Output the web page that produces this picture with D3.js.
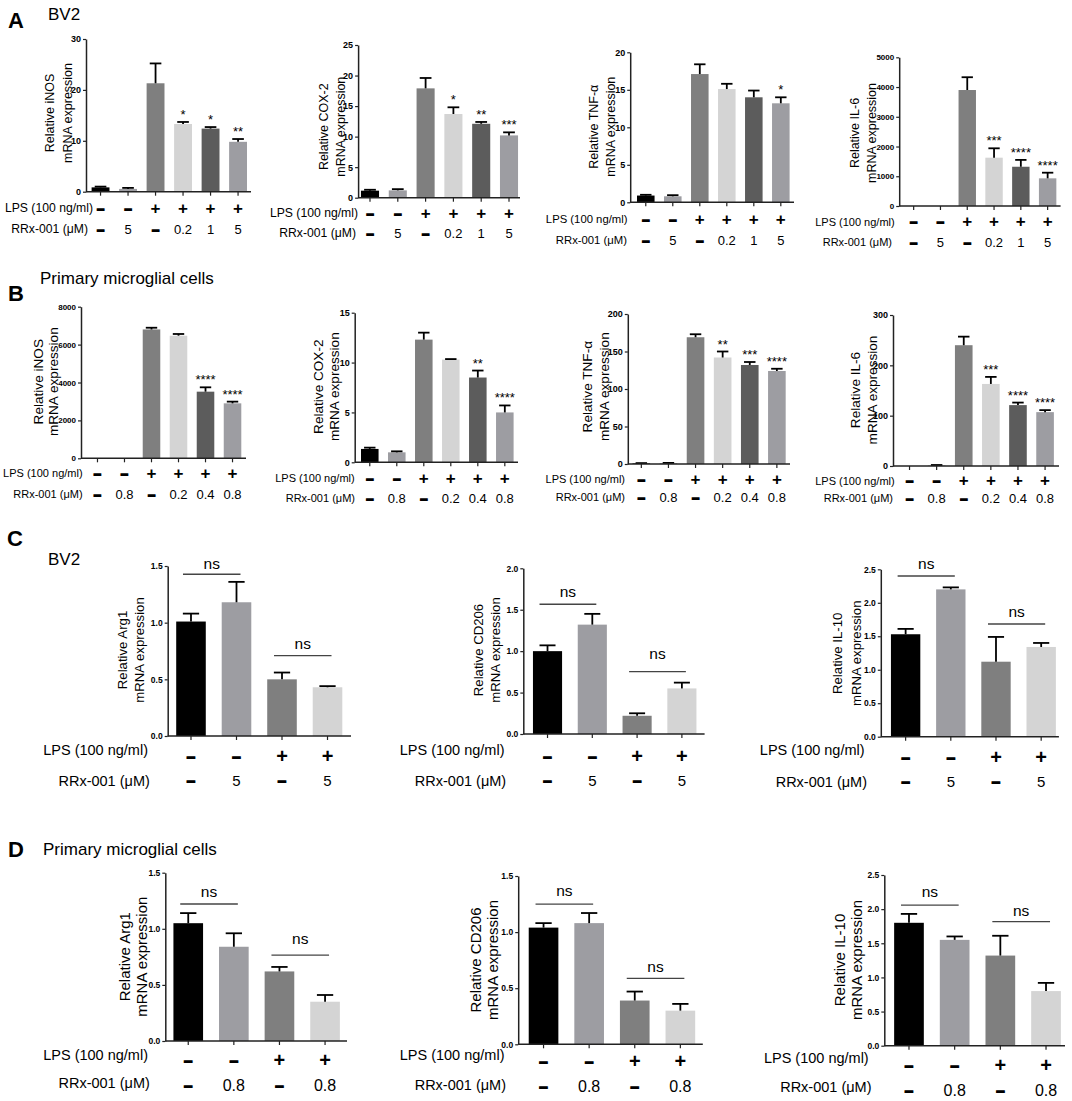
<!DOCTYPE html>
<html>
<head>
<meta charset="utf-8">
<script src="https://cdn.jsdelivr.net/npm/d3@7"></script>
<style>
  body { margin: 0; background: #fff; }
  svg { display: block; font-family: "Liberation Sans", Arial, sans-serif; }
</style>
</head>
<body>
<svg id="fig" width="1072" height="1101"></svg>
<script>
// treatment rows
const lpsSix = ['-', '-', '+', '+', '+', '+']
const rrxBv2Six = ['-', '5', '-', '0.2', '1', '5']
const rrxPriSix = ['-', '0.8', '-', '0.2', '0.4', '0.8']
const lpsFour = ['-', '-', '+', '+']
const rrxBv2Four = ['-', '5', '-', '5']
const rrxPriFour = ['-', '0.8', '-', '0.8']

// panel A, BV2 pro-inflammatory
const bv2InosMean = [0.85, 0.55, 21.3, 13.3, 12.4, 9.8]
const bv2InosSem = [0.15, 0.2, 3.9, 0.4, 0.3, 0.55]
const bv2InosSig = ['', '', '', '*', '*', '**']
const bv2Cox2Mean = [1.15, 1.2, 17.9, 13.7, 12.1, 10.2]
const bv2Cox2Sem = [0.15, 0.2, 1.7, 1.1, 0.3, 0.5]
const bv2Cox2Sig = ['', '', '', '*', '**', '***']
const bv2TnfMean = [0.9, 0.8, 17.1, 15.1, 14.0, 13.2]
const bv2TnfSem = [0.1, 0.15, 1.3, 0.7, 0.9, 0.8]
const bv2TnfSig = ['', '', '', '', '', '*']
const bv2Il6Mean = [0, 0, 3900, 1625, 1320, 930]
const bv2Il6Sem = [0, 0, 430, 315, 230, 190]
const bv2Il6Sig = ['', '', '', '***', '****', '****']

// panel B, primary microglia pro-inflammatory
const priInosMean = [0, 0, 6800, 6470, 3516, 2900]
const priInosSem = [0, 0, 90, 90, 230, 90]
const priInosSig = ['', '', '', '', '****', '****']
const priCox2Mean = [1.34, 1.0, 12.3, 10.3, 8.5, 5.0]
const priCox2Sem = [0.13, 0.1, 0.7, 0.05, 0.7, 0.7]
const priCox2Sig = ['', '', '', '', '**', '****']
const priTnfMean = [0.8, 1.0, 169, 142, 132, 124]
const priTnfSem = [0.4, 0.5, 4, 8, 4, 3]
const priTnfSig = ['', '', '', '**', '***', '****']
const priIl6Mean = [0, 1, 240, 163, 121, 107]
const priIl6Sem = [0, 1, 17, 14, 5, 4]
const priIl6Sig = ['', '', '', '***', '****', '****']

// panel C, BV2 anti-inflammatory
const bv2Arg1Mean = [1.01, 1.18, 0.50, 0.43]
const bv2Arg1Sem = [0.07, 0.18, 0.06, 0.01]
const bv2Cd206Mean = [1.0, 1.32, 0.22, 0.55]
const bv2Cd206Sem = [0.07, 0.13, 0.03, 0.07]
const bv2Il10Mean = [1.53, 2.20, 1.12, 1.34]
const bv2Il10Sem = [0.08, 0.03, 0.37, 0.06]

// panel D, primary microglia anti-inflammatory
const priArg1Mean = [1.05, 0.84, 0.62, 0.35]
const priArg1Sem = [0.09, 0.12, 0.04, 0.06]
const priCd206Mean = [1.04, 1.08, 0.39, 0.30]
const priCd206Sem = [0.04, 0.09, 0.08, 0.06]
const priIl10Mean = [1.80, 1.55, 1.32, 0.80]
const priIl10Sem = [0.13, 0.05, 0.29, 0.12]

const sixColors = ['#000000', '#9d9da2', '#7f7f7f', '#d4d4d4', '#5c5c5c', '#9d9da2']
const fourColors = ['#000000', '#9d9da2', '#7f7f7f', '#d4d4d4']

const svg = d3.select('#fig')

// row styles: A/B small, C/D larger
const small = {rowSize: 11, symSize: 17, dashSize: 13, valSize: 13, tickSize: 9, labelSize: 12.5, cap: 0.65}
const big = {rowSize: 14.5, symSize: 20, dashSize: 15, valSize: 15, tickSize: 8.5, labelSize: 13.2, cap: 0.55}

const charts = [
  {gene: 'iNOS', mean: bv2InosMean, sem: bv2InosSem, sig: bv2InosSig, lps: lpsSix, rrx: rrxBv2Six, max: 30, ticks: [0, 10, 20, 30],
   ax: 86, range: [86.1, 252.5], axisEnd: 251, y0: 191.7, yTop: 39, labX: [50, 68], labY: 113,
   lpsY: 208.3, lpsSymY: 208.3, rrxY: 229.3, rrxValY: 229.3, lpsRight: 93, rrxRight: 88, st: {...small, rowSize: 12.2}},
  {gene: 'COX-2', mean: bv2Cox2Mean, sem: bv2Cox2Sem, sig: bv2Cox2Sig, lps: lpsSix, rrx: rrxBv2Six, max: 25, ticks: [0, 5, 10, 15, 20, 25],
   ax: 358.1, range: [355.4, 523.6], axisEnd: 520, y0: 197.7, yTop: 45, labX: [324, 341], labY: 126.7,
   lpsY: 213.3, lpsSymY: 213.3, rrxY: 233.3, rrxValY: 233.3, lpsRight: 358, rrxRight: 356, st: {...small, rowSize: 12.2}},
  {gene: 'TNF-α', mean: bv2TnfMean, sem: bv2TnfSem, sig: bv2TnfSig, lps: lpsSix, rrx: rrxBv2Six, max: 20, ticks: [0, 5, 10, 15, 20],
   ax: 630.2, range: [631.6, 795], axisEnd: 794, y0: 202.3, yTop: 52.3, labX: [594, 611], labY: 126.7,
   lpsY: 219.3, lpsSymY: 219.3, rrxY: 240, rrxValY: 240, lpsRight: 627.5, rrxRight: 627, st: {...small, rowSize: 11.3}},
  {gene: 'IL-6', mean: bv2Il6Mean, sem: bv2Il6Sem, sig: bv2Il6Sig, lps: lpsSix, rrx: rrxBv2Six, max: 5000, ticks: [0, 1000, 2000, 3000, 4000, 5000],
   ax: 899.2, range: [899.6, 1061.7], axisEnd: 1060.6, y0: 206, yTop: 57.3, labX: [855, 872], labY: 133,
   lpsY: 221.7, lpsSymY: 221.7, rrxY: 242, rrxValY: 242, lpsRight: 894.7, rrxRight: 892, st: {...small, tickSize: 8}},

  {gene: 'iNOS', mean: priInosMean, sem: priInosSem, sig: priInosSig, lps: lpsSix, rrx: rrxPriSix, max: 8000, ticks: [0, 2000, 4000, 6000, 8000],
   ax: 81, range: [83.3, 246.7], axisEnd: 246, y0: 458.3, yTop: 306.7, labX: [38, 53], labY: 381.7,
   lpsY: 473.3, lpsSymY: 473.3, rrxY: 494, rrxValY: 494, lpsRight: 82.6, rrxRight: 82.6, st: {...small, labelSize: 13.6, tickSize: 8}},
  {gene: 'COX-2', mean: priCox2Mean, sem: priCox2Sem, sig: priCox2Sig, lps: lpsSix, rrx: rrxPriSix, max: 15, ticks: [0, 5, 10, 15],
   ax: 354.7, range: [355.6, 519], axisEnd: 518, y0: 462.3, yTop: 312.7, labX: [318.5, 334], labY: 386.7,
   lpsY: 478.3, lpsSymY: 478.3, rrxY: 498.3, rrxValY: 498.3, lpsRight: 354.7, rrxRight: 355, st: {...small, labelSize: 13.6}},
  {gene: 'TNF-α', mean: priTnfMean, sem: priTnfSem, sig: priTnfSig, lps: lpsSix, rrx: rrxPriSix, max: 200, ticks: [0, 50, 100, 150, 200],
   ax: 627.8, range: [627.1, 791.1], axisEnd: 790, y0: 464, yTop: 314, labX: [587, 604], labY: 386.7,
   lpsY: 479.3, lpsSymY: 479.3, rrxY: 497.3, rrxValY: 497.3, lpsRight: 625, rrxRight: 625, st: {...small, labelSize: 13.6}},
  {gene: 'IL-6', mean: priIl6Mean, sem: priIl6Sem, sig: priIl6Sig, lps: lpsSix, rrx: rrxPriSix, max: 300, ticks: [0, 100, 200, 300],
   ax: 893, range: [895.3, 1059.3], axisEnd: 1059, y0: 466, yTop: 315, labX: [855, 872], labY: 390,
   lpsY: 480.7, lpsSymY: 480.7, rrxY: 498.3, rrxValY: 498.3, lpsRight: 894.7, rrxRight: 893, st: {...small, labelSize: 13.6}},

  {gene: 'Arg1', mean: bv2Arg1Mean, sem: bv2Arg1Sem, lps: lpsFour, rrx: rrxBv2Four, max: 1.5, ticks: [0, 0.5, 1, 1.5], dec: true,
   ax: 167.7, range: [167.1, 351.4], axisEnd: 351, y0: 736, yTop: 566, labX: [122, 139.5], labY: 650,
   lpsY: 750, lpsSymY: 756, rrxY: 780.7, rrxValY: 780.7, lpsRight: 148, rrxRight: 149.8, st: big,
   ns: [{a: 0, b: 1, v: 1.427, gap: 11}, {a: 2, b: 3, v: 0.709, gap: 12.4}]},
  {gene: 'CD206', mean: bv2Cd206Mean, sem: bv2Cd206Sem, lps: lpsFour, rrx: rrxBv2Four, max: 2, ticks: [0, 0.5, 1, 1.5, 2], dec: true,
   ax: 523.3, range: [524, 705.4], axisEnd: 704.6, y0: 734, yTop: 568.3, labX: [478.6, 495.9], labY: 650,
   lpsY: 750, lpsSymY: 756, rrxY: 780.7, rrxValY: 780.7, lpsRight: 504.5, rrxRight: 506.2, st: big,
   ns: [{a: 0, b: 1, v: 1.566, gap: 12.6}, {a: 2, b: 3, v: 0.752, gap: 18.4}]},
  {gene: 'IL-10', mean: bv2Il10Mean, sem: bv2Il10Sem, lps: lpsFour, rrx: rrxBv2Four, max: 2.5, ticks: [0, 0.5, 1, 1.5, 2, 2.5], dec: true,
   ax: 880.8, range: [881.9, 1064.9], axisEnd: 1058.9, y0: 736.7, yTop: 569.3, labX: [837.6, 856.7], labY: 653.3,
   lpsY: 750, lpsSymY: 757.3, rrxY: 781.7, rrxValY: 781.7, lpsRight: 864.6, rrxRight: 867, st: big,
   ns: [{a: 0, b: 1, v: 2.40, gap: 12.7}, {a: 2, b: 3, v: 1.683, gap: 12.3}]},

  {gene: 'Arg1', mean: priArg1Mean, sem: priArg1Sem, lps: lpsFour, rrx: rrxPriFour, max: 1.5, ticks: [0, 0.5, 1, 1.5], dec: true,
   ax: 165.3, range: [164.3, 349], axisEnd: 347, y0: 1041, yTop: 872.7, labX: [124, 141.2], labY: 956.7,
   lpsY: 1055, lpsSymY: 1060, rrxY: 1083.3, rrxValY: 1085, lpsRight: 148, rrxRight: 149.8, st: {...big, labelSize: 15, valSize: 16},
   ns: [{a: 0, b: 1, v: 1.221, gap: 12.3}, {a: 2, b: 3, v: 0.766, gap: 16.7}]},
  {gene: 'CD206', mean: priCd206Mean, sem: priCd206Sem, lps: lpsFour, rrx: rrxPriFour, max: 1.5, ticks: [0, 0.5, 1, 1.5], dec: true,
   ax: 518.2, range: [519.6, 704.3], axisEnd: 702.8, y0: 1044.3, yTop: 876, labX: [475.2, 492.4], labY: 960,
   lpsY: 1055, lpsSymY: 1061, rrxY: 1085, rrxValY: 1086.7, lpsRight: 504.5, rrxRight: 506, st: {...big, labelSize: 15, valSize: 16},
   ns: [{a: 0, b: 1, v: 1.25, gap: 14}, {a: 2, b: 3, v: 0.588, gap: 12.3}]},
  {gene: 'IL-10', mean: priIl10Mean, sem: priIl10Sem, lps: lpsFour, rrx: rrxPriFour, max: 2.5, ticks: [0, 0.5, 1, 1.5, 2, 2.5], dec: true,
   ax: 884.3, range: [885, 1070], axisEnd: 1065, y0: 1045.7, yTop: 875, labX: [839.4, 856.7], labY: 960,
   lpsY: 1058.3, lpsSymY: 1065, rrxY: 1086.7, rrxValY: 1090, lpsRight: 868.7, rrxRight: 871.5, st: {...big, labelSize: 15, valSize: 16},
   ns: [{a: 0, b: 1, v: 2.06, gap: 13.3}, {a: 2, b: 3, v: 1.816, gap: 11.7}]}
]

// panel letters and titles
const heads = [
  {t: 'A', x: 8, y: 28, size: 22, bold: true}, {t: 'BV2', x: 48, y: 20, size: 17},
  {t: 'B', x: 8, y: 301, size: 22, bold: true}, {t: 'Primary microglial cells', x: 40, y: 284, size: 17},
  {t: 'C', x: 7, y: 546, size: 22, bold: true}, {t: 'BV2', x: 48, y: 565, size: 17},
  {t: 'D', x: 8, y: 857, size: 22, bold: true}, {t: 'Primary microglial cells', x: 43, y: 855, size: 17}
]
svg.selectAll('text.head').data(heads).enter().append('text')
  .attr('class', 'head')
  .attr('x', d => d.x).attr('y', d => d.y)
  .style('font-size', d => d.size + 'px')
  .style('font-weight', d => d.bold ? 'bold' : 'normal')
  .text(d => d.t)

let drawChart = (c) => {
  const n = c.mean.length
  const st = c.st
  const colors = n === 6 ? sixColors : fourColors

  const x = d3.scaleBand()
    .domain(d3.range(n))
    .range(c.range)
    .paddingInner(0.35)
    .paddingOuter(0.2)
  const y = d3.scaleLinear()
    .domain([0, c.max])
    .range([c.y0, c.yTop])
  const cx = i => x(i) + x.bandwidth() / 2

  const g = svg.append('g')

  g.selectAll('rect.bar')
    .data(c.mean)
    .enter().append('rect')
    .attr('class', 'bar')
    .attr('x', (d, i) => x(i))
    .attr('width', x.bandwidth())
    .attr('y', d => y(d))
    .attr('height', d => c.y0 - y(d))
    .attr('fill', (d, i) => colors[i])

  // error bars, upper only
  const capW = x.bandwidth() * st.cap
  const eb = g.selectAll('g.err')
    .data(c.mean.map((m, i) => ({m: m, e: c.sem[i], i: i})).filter(d => d.m + d.e > 0))
    .enter().append('g')
    .attr('class', 'err')
  eb.append('line')
    .attr('x1', d => cx(d.i)).attr('x2', d => cx(d.i))
    .attr('y1', d => y(d.m)).attr('y2', d => y(d.m + d.e))
    .attr('stroke', '#000').attr('stroke-width', 1.8)
  eb.append('line')
    .attr('x1', d => cx(d.i) - capW / 2).attr('x2', d => cx(d.i) + capW / 2)
    .attr('y1', d => y(d.m + d.e)).attr('y2', d => y(d.m + d.e))
    .attr('stroke', '#000').attr('stroke-width', 1.8)

  // y axis
  const yAxis = d3.axisLeft(y)
    .tickValues(c.ticks)
    .tickSize(3)
    .tickSizeOuter(0)
    .tickPadding(2)
    .tickFormat(c.dec ? d3.format('.1f') : d3.format('d'))
  const ya = g.append('g')
    .attr('transform', 'translate(' + c.ax + ',0)')
    .call(yAxis)
  ya.select('.domain').attr('stroke', '#222').attr('stroke-width', 1.5)
  ya.selectAll('.tick line').attr('stroke', '#222').attr('stroke-width', 1.2)
  ya.selectAll('.tick text')
    .attr('fill', '#000')
    .style('font-family', '"Liberation Sans", Arial, sans-serif')
    .style('font-size', st.tickSize + 'px')
    .style('font-weight', 'bold')

  // x axis: line with small ticks under each bar
  const xAxis = d3.axisBottom(x).tickSize(4).tickSizeOuter(0).tickFormat('')
  const xa = g.append('g')
    .attr('transform', 'translate(0,' + c.y0 + ')')
    .call(xAxis)
  xa.select('.domain').attr('d', 'M' + c.ax + ',0H' + c.axisEnd).attr('stroke', '#222').attr('stroke-width', 1.5)
  xa.selectAll('.tick line').attr('stroke', '#222').attr('stroke-width', 1.2)

  // y label, two rotated lines
  const ylab = ['Relative ' + c.gene, 'mRNA expression']
  g.selectAll('text.ylab')
    .data(ylab)
    .enter().append('text')
    .attr('class', 'ylab')
    .attr('transform', (d, i) => 'translate(' + c.labX[i] + ',' + c.labY + ') rotate(-90)')
    .attr('text-anchor', 'middle')
    .attr('dominant-baseline', 'central')
    .style('font-size', st.labelSize + 'px')
    .text(d => d)

  // significance stars
  if (c.sig) {
    g.selectAll('text.sig')
      .data(c.sig)
      .enter().append('text')
      .attr('class', 'sig')
      .attr('x', (d, i) => cx(i))
      .attr('y', (d, i) => y(c.mean[i] + c.sem[i]) - 3)
      .attr('text-anchor', 'middle')
      .style('font-size', '13px')
      .text(d => d)
  }

  // ns brackets
  if (c.ns) {
    const ns = g.selectAll('g.ns').data(c.ns).enter().append('g').attr('class', 'ns')
    ns.append('line')
      .attr('x1', d => cx(d.a) - 8).attr('x2', d => cx(d.b) + 4)
      .attr('y1', d => y(d.v)).attr('y2', d => y(d.v))
      .attr('stroke', '#444').attr('stroke-width', 1.3)
    ns.append('text')
      .attr('x', d => (cx(d.a) - 8 + cx(d.b) + 4) / 2)
      .attr('y', d => y(d.v) - d.gap)
      .attr('text-anchor', 'middle')
      .attr('dominant-baseline', 'central')
      .style('font-size', '15.5px')
      .text('ns')
  }

  // treatment rows
  g.append('text')
    .attr('x', c.lpsRight).attr('y', c.lpsY)
    .attr('text-anchor', 'end').attr('dominant-baseline', 'central')
    .style('font-size', st.rowSize + 'px')
    .text('LPS (100 ng/ml)')
  g.append('text')
    .attr('x', c.rrxRight).attr('y', c.rrxY)
    .attr('text-anchor', 'end').attr('dominant-baseline', 'central')
    .style('font-size', st.rowSize + 'px')
    .text('RRx-001 (μM)')

  const sym = (sel, arr, yy) => {
    sel.selectAll(null)
      .data(arr)
      .enter().append('text')
      .attr('x', (d, i) => cx(i))
      .attr('y', yy)
      .attr('text-anchor', 'middle')
      .attr('dominant-baseline', 'central')
      .style('font-size', d => (d === '+' ? st.symSize : d === '-' ? st.dashSize : st.valSize) + 'px')
      .style('font-weight', d => (d === '+' || d === '-') ? 'bold' : 'normal')
      .attr('stroke', d => d === '-' ? '#000' : 'none')
      .attr('stroke-width', 1.4)
      .text(d => d === '-' ? '–' : d)
  }
  sym(g, c.lps, c.lpsSymY)
  sym(g, c.rrx, c.rrxValY)
}

charts.forEach(c => drawChart(c))
</script>
</body>
</html>
